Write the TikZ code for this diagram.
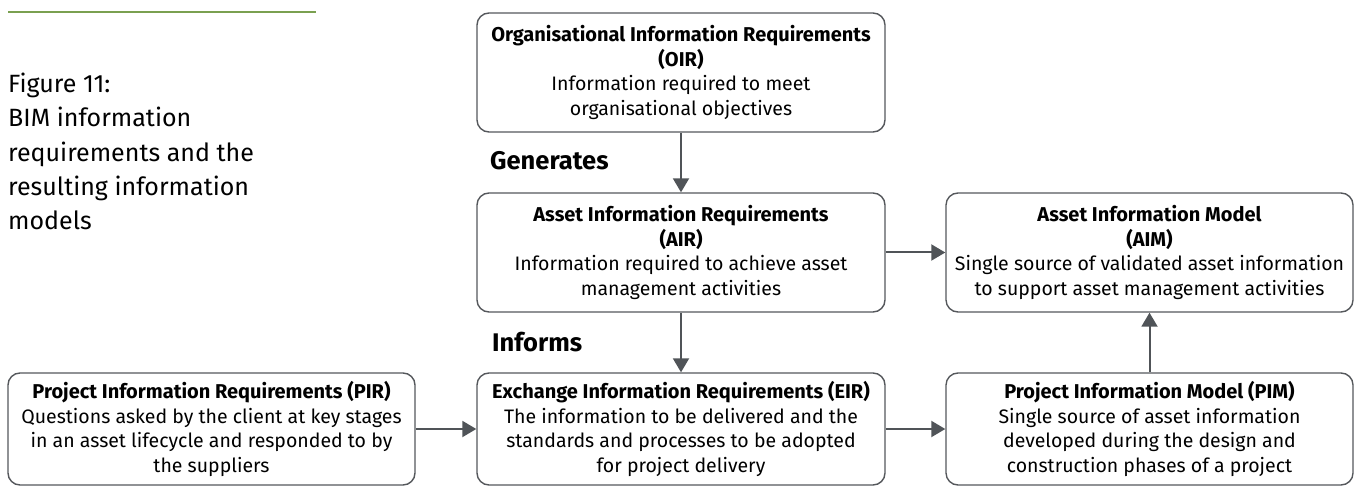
\documentclass[tikz,border=0pt]{standalone}
\usepackage{fontspec}
\setmainfont{Fira Sans}
\usetikzlibrary{arrows.meta}
\definecolor{boxline}{RGB}{85,88,92}
\definecolor{arrowc}{RGB}{80,84,88}
\definecolor{rulegreen}{RGB}{122,160,80}
\newcommand{\bt}[1]{{\fontsize{20}{24.5}\selectfont\bfseries #1}}
\begin{document}
\begin{tikzpicture}[x=1pt,y=-1pt,
  box/.style={draw=boxline,line width=1.4pt,rounded corners=12pt,minimum width=408pt,align=center,font=\fontsize{19.5}{24.5}\selectfont,inner sep=0pt},
  conn/.style={draw=arrowc,line width=2pt,-{Triangle[width=16pt,length=14pt]}},
  lbl/.style={font=\fontsize{25.5}{30}\selectfont\bfseries,anchor=west,inner sep=0pt}]
\useasboundingbox (0,0) rectangle (1356,486);
\draw[rulegreen,line width=1.5pt] (8,12) -- (316,12);
\node[anchor=north west,align=left,inner sep=0pt,font=\fontsize{25}{34.3}\selectfont] (cap) at (8,73) {Figure 11:\\BIM information\\requirements and the\\resulting information\\models};
\node[box,minimum height=119pt] (oir) at (681,72.5) {\bt{Organisational Information Requirements}\\\bt{(OIR)}\\Information required to meet\\organisational objectives};
\node[box,minimum height=119pt] (air) at (681,252.5) {\bt{Asset Information Requirements}\\\bt{(AIR)}\\Information required to achieve asset\\management activities};
\node[box,minimum height=119pt,minimum width=407pt] (aim) at (1149.5,252.5) {\bt{Asset Information Model}\\\bt{(AIM)}\\Single source of validated asset information\\to support asset management activities};
\node[box,minimum height=112pt] (eir) at (681,429) {\bt{Exchange Information Requirements (EIR)}\\The information to be delivered and the\\standards and processes to be adopted\\for project delivery};
\node[box,minimum height=112pt,minimum width=407pt] (pir) at (211.5,429) {\bt{Project Information Requirements (PIR)}\\Questions asked by the client at key stages\\in an asset lifecycle and responded to by\\the suppliers};
\node[box,minimum height=112pt,minimum width=407pt] (pim) at (1149.5,429) {\bt{Project Information Model (PIM)}\\Single source of asset information\\developed during the design and\\construction phases of a project};
\node[lbl] (gen) at (490,161) {Generates};
\node[lbl] (inf) at (492,342) {Informs};
\draw[conn] (oir) -- (air);
\draw[conn] (air) -- (eir);
\draw[conn] (air) -- (aim);
\draw[conn] (pir) -- (eir);
\draw[conn] (eir) -- (pim);
\draw[conn] (pim) -- (aim);
\end{tikzpicture}
\end{document}
